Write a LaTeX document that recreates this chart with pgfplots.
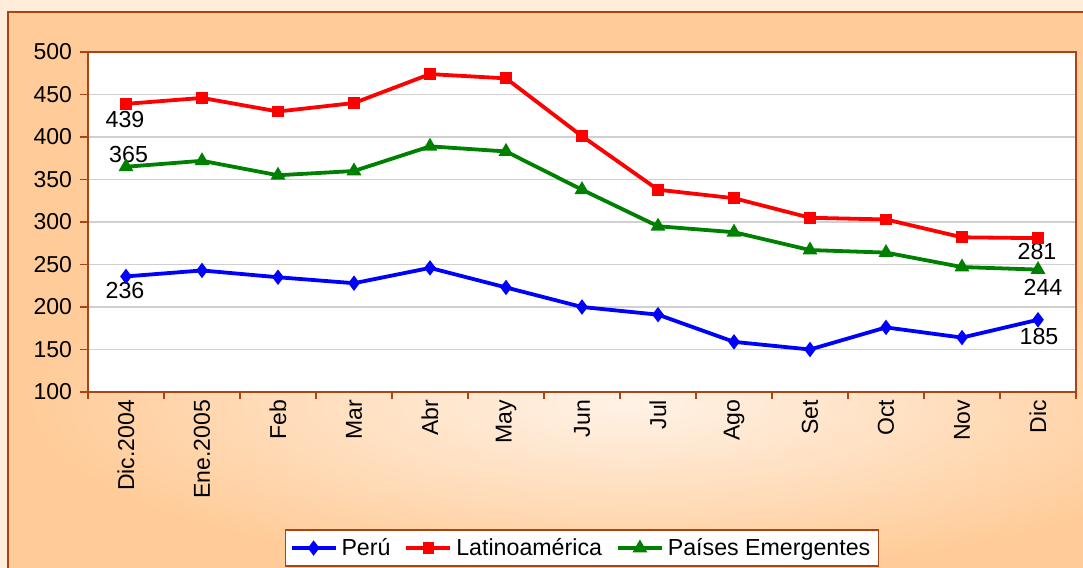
\documentclass[border=0pt]{standalone}
\usepackage{pgfplots}
\pgfplotsset{compat=1.18}
\usepackage{fontspec}
\setmainfont{Liberation Sans}
\definecolor{outerbg}{RGB}{255,236,217}
\definecolor{peach}{RGB}{255,204,153}
\definecolor{peachlight}{RGB}{255,242,230}
\definecolor{framec}{RGB}{170,68,20}
\definecolor{gridc}{RGB}{208,208,208}
\definecolor{pblue}{RGB}{0,0,255}
\definecolor{pred}{RGB}{255,0,0}
\definecolor{pgreen}{RGB}{0,128,0}
\begin{document}
\begin{tikzpicture}
\fill[outerbg] (0pt,0pt) rectangle (541.5pt,284pt);
\begin{scope}
\clip (4pt,-5pt) rectangle (545pt,278pt);
\fill[peach] (4pt,-5pt) rectangle (545pt,278pt);
\shade[inner color=peachlight, outer color=peach] (315pt,82pt) ellipse (300pt and 85pt);
\end{scope}
\draw[framec, line width=0.75pt] (4pt,-5pt) -- (4pt,278pt) -- (545pt,278pt);
\begin{axis}[
  at={(44pt,88pt)}, anchor=south west,
  scale only axis, width=494pt, height=170pt,
  xmin=-0.5, xmax=12.5, ymin=100, ymax=500,
  axis background/.style={fill=white},
  axis line style={framec, line width=0.75pt},
  ytick={100,150,...,500},
  xtick={0,...,12},
  xticklabels={Dic.2004,Ene.2005,Feb,Mar,Abr,May,Jun,Jul,Ago,Set,Oct,Nov,Dic},
  minor xtick={-0.5,0.5,...,12.5},
  xtick pos=bottom, ytick pos=left,
  tick align=outside,
  major tick length=4pt,
  minor tick length=3.5pt,
  major x tick style={draw=none},
  major y tick style={draw=framec, line width=0.75pt},
  minor x tick style={draw=framec, line width=0.75pt},
  ymajorgrids,
  grid style={gridc, line width=0.8pt},
  tick label style={font=\fontsize{11.5}{13}\selectfont, text=black},
  x tick label style={rotate=90, anchor=east},
  xticklabel shift=-3.5pt,
  y tick label style={xshift=-0.5pt},
  /pgf/number format/assume math mode=true,
  yticklabel style={/pgf/number format/.cd, fixed, 1000 sep={}},
  legend style={at={(0.5,-0.459)}, anchor=center, legend columns=3,
    draw=framec, line width=0.6pt, fill=white,
    font=\fontsize{11.6}{13}\selectfont, inner sep=2pt,
    /tikz/every even column/.append style={column sep=5pt}},
  legend image code/.code={\draw[mark repeat=2,mark phase=2] plot coordinates {(0pt,0pt) (11pt,0pt) (22pt,0pt)};},
  clip=false,
]
\addplot[pblue, line width=1.9pt, mark=diamond*, mark size=2.3pt, mark options={solid}] coordinates {
(0,236) (1,243) (2,235) (3,228) (4,246) (5,223) (6,200) (7,191) (8,159) (9,150) (10,176) (11,164) (12,185)};
\addlegendentry{Perú}
\addplot[pred, line width=1.9pt, mark=square*, mark size=2pt] coordinates {
(0,439) (1,446) (2,430) (3,440) (4,474) (5,469) (6,401) (7,338) (8,328) (9,305) (10,303) (11,282) (12,281)};
\addlegendentry{Latinoamérica}
\addplot[pgreen, line width=1.9pt, mark=triangle*, mark size=2.4pt] coordinates {
(0,365) (1,372) (2,355) (3,360) (4,389) (5,383) (6,338) (7,295) (8,288) (9,267) (10,264) (11,247) (12,244)};
\addlegendentry{Países Emergentes}
\begin{scope}[every node/.style={font=\fontsize{11.6}{13}\selectfont, inner sep=0pt, anchor=center}]
\node[xshift=-0.5pt, yshift=-7.8pt] at (axis cs:0,439) {439};
\node[xshift=1.3pt, yshift=6pt] at (axis cs:0,365) {365};
\node[xshift=-0.5pt, yshift=-7.2pt] at (axis cs:0,236) {236};
\node[xshift=-0.5pt, yshift=-6.5pt] at (axis cs:12,281) {281};
\node[xshift=2.5pt, yshift=-8.7pt] at (axis cs:12,244) {244};
\node[xshift=0.5pt, yshift=-8.5pt] at (axis cs:12,185) {185};
\end{scope}
\end{axis}
\pgfresetboundingbox
\useasboundingbox (0pt,0pt) rectangle (541.5pt,284pt);
\end{tikzpicture}
\end{document}
